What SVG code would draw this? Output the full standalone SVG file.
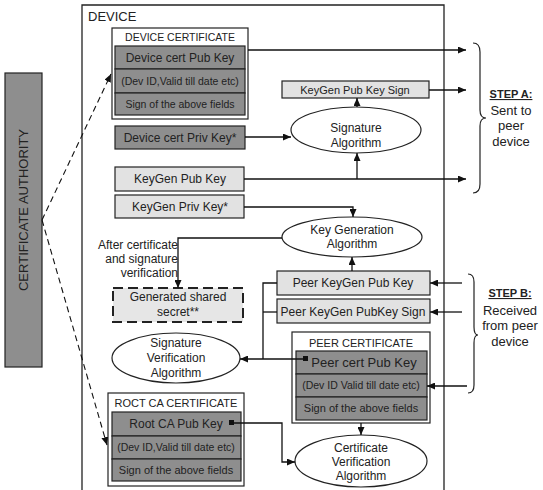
<svg xmlns="http://www.w3.org/2000/svg" width="543" height="490" viewBox="0 0 543 490">
<defs>
<marker id="ah" markerUnits="userSpaceOnUse" markerWidth="8" markerHeight="7" refX="8" refY="3.5" orient="auto"><path d="M0,0 L8,3.5 L0,7 z" fill="#111"/></marker>
<style>
text{font-family:"Liberation Sans",Arial,sans-serif;fill:#222;text-anchor:middle}
.dark{fill:#8e8e8e;stroke:#222;stroke-width:1.2}
.light{fill:#e2e2e2;stroke:#222;stroke-width:1.2}
.outer{fill:#fff;stroke:#222;stroke-width:1.2}
.ell{fill:#fff;stroke:#222;stroke-width:1.2}
.c{fill:none;stroke:#111;stroke-width:1.3}
.d{fill:none;stroke:#111;stroke-width:1.1;stroke-dasharray:6,4}
.t12{font-size:12px}
.t11{font-size:11px}
.t10{font-size:10.5px}
.t13{font-size:13px}
</style>
</defs>
<rect width="543" height="490" fill="#fff"/>

<g id="device">
<path d="M82,492 V5 H444 V492" fill="none" stroke="#222" stroke-width="1.3"/>
<text x="88" y="21" class="t13" style="text-anchor:start">DEVICE</text>
</g>

<g id="certificate-authority">
<rect x="5" y="73" width="37" height="294" class="dark"/>
<text transform="translate(28,210) rotate(-90)" class="t13" fill="#222">CERTIFICATE AUTHORITY</text>
</g>

<g id="device-certificate">
<rect x="112" y="28" width="136" height="91" class="outer"/>
<text x="180" y="41" class="t10">DEVICE CERTIFICATE</text>
<rect x="115" y="46" width="130" height="23" class="dark"/>
<text x="180" y="62" class="t12">Device cert Pub Key</text>
<rect x="115" y="69" width="130" height="24" class="dark"/>
<text x="180" y="85" class="t10">(Dev ID,Valid till date etc)</text>
<rect x="115" y="93" width="130" height="22" class="dark"/>
<text x="180" y="108" class="t10">Sign of the above fields</text>
</g>

<g id="device-cert-priv-key">
<rect x="115" y="126" width="130" height="23" class="dark"/>
<text x="180" y="142" class="t12">Device cert Priv Key*</text>
</g>

<g id="keygen-pub-key">
<rect x="115" y="167" width="129" height="24" class="light"/>
<text x="180" y="183" class="t12">KeyGen Pub Key</text>
</g>

<g id="keygen-priv-key">
<rect x="115" y="195" width="129" height="23" class="light"/>
<text x="180" y="211" class="t12">KeyGen Priv Key*</text>
</g>

<g id="keygen-pub-key-sign">
<rect x="282" y="81" width="147" height="17" class="light"/>
<text x="355" y="94" class="t11">KeyGen Pub Key Sign</text>
</g>

<g id="signature-algorithm">
<ellipse cx="356" cy="130" rx="65" ry="23" class="ell"/>
<text x="356" y="132" class="t12">Signature</text>
<text x="356" y="147" class="t12">Algorithm</text>
</g>

<g id="key-generation-algorithm">
<ellipse cx="352" cy="237" rx="70" ry="20" class="ell"/>
<text x="352" y="234" class="t12">Key Generation</text>
<text x="352" y="248" class="t12">Algorithm</text>
</g>

<g id="after-note">
<text x="178" y="249" class="t12" style="text-anchor:end">After certificate</text>
<text x="178" y="263" class="t12" style="text-anchor:end">and signature</text>
<text x="178" y="277" class="t12" style="text-anchor:end">verification</text>
</g>

<g id="shared-secret">
<rect x="113" y="288" width="130" height="34" fill="#e6e6e6" stroke="#222" stroke-width="2" stroke-dasharray="10,5"/>
<text x="178" y="301" class="t12">Generated shared</text>
<text x="178" y="316" class="t12">secret**</text>
</g>

<g id="peer-keygen-pub-key">
<rect x="277" y="271" width="153" height="24" class="light"/>
<text x="353" y="287" class="t12">Peer KeyGen Pub Key</text>
</g>

<g id="peer-keygen-pubkey-sign">
<rect x="277" y="299" width="153" height="24" class="light"/>
<text x="353" y="316" class="t12">Peer KeyGen PubKey Sign</text>
</g>

<g id="signature-verification-algorithm">
<ellipse cx="176" cy="358" rx="64" ry="25" class="ell"/>
<text x="176" y="347" class="t12">Signature</text>
<text x="176" y="362" class="t12">Verification</text>
<text x="176" y="377" class="t12">Algorithm</text>
</g>

<g id="peer-certificate">
<rect x="292" y="332" width="138" height="91" class="outer"/>
<text x="361" y="347" class="t11">PEER CERTIFICATE</text>
<rect x="296" y="351" width="131" height="23" class="dark"/>
<text x="364" y="367" class="t13">Peer cert Pub Key</text>
<rect x="303" y="356" width="5" height="5" fill="#111"/>
<rect x="296" y="374" width="131" height="23" class="dark"/>
<text x="361" y="389" class="t10">(Dev ID Valid till date etc)</text>
<rect x="296" y="397" width="131" height="23" class="dark"/>
<text x="361" y="412" class="t11">Sign of the above fields</text>
</g>

<g id="root-ca-certificate">
<rect x="108" y="393" width="136" height="93" class="outer"/>
<text x="176" y="407" class="t11">ROCT CA CERTIFICATE</text>
<rect x="112" y="412" width="129" height="24" class="dark"/>
<text x="176" y="428" class="t12">Root CA Pub Key</text>
<rect x="229" y="420" width="5" height="5" fill="#111"/>
<rect x="112" y="436" width="129" height="23" class="dark"/>
<text x="176" y="451" class="t10">(Dev ID,Valid till date etc)</text>
<rect x="112" y="459" width="129" height="22" class="dark"/>
<text x="176" y="474" class="t11">Sign of the above fields</text>
</g>

<g id="certificate-verification-algorithm">
<ellipse cx="361" cy="461" rx="66" ry="26" class="ell"/>
<text x="361" y="452" class="t12">Certificate</text>
<text x="361" y="466" class="t12">Verification</text>
<text x="361" y="480" class="t12">Algorithm</text>
</g>

<g id="step-a">
<path d="M473,43 Q480,43 480,52 L480,110 Q480,118 486,118 Q480,118 480,126 L480,184 Q480,193 473,193" fill="none" stroke="#222" stroke-width="1.2"/>
<text x="511" y="98" style="font-size:11px;font-weight:bold;text-decoration:underline">STEP A:</text>
<text x="511" y="115" class="t13">Sent to</text>
<text x="511" y="130" class="t13">peer</text>
<text x="511" y="146" class="t13">device</text>
</g>

<g id="step-b">
<path d="M468,274 Q474,274 474,282 L474,327 Q474,335 478,335 Q474,335 474,343 L474,385 Q474,393 468,393" fill="none" stroke="#222" stroke-width="1.2"/>
<text x="510" y="297" style="font-size:11px;font-weight:bold;text-decoration:underline">STEP B:</text>
<text x="510" y="315" class="t13">Received</text>
<text x="510" y="330" class="t13">from peer</text>
<text x="510" y="346" class="t13">device</text>
</g>

<g id="connectors">
<path class="c" d="M248,50 H466" marker-end="url(#ah)"/>
<path class="c" d="M245,137 H291" marker-end="url(#ah)"/>
<path class="c" d="M357,107 V98" marker-end="url(#ah)"/>
<path class="c" d="M429,90 H466" marker-end="url(#ah)"/>
<path class="c" d="M244,179 H466" marker-end="url(#ah)"/>
<path class="c" d="M357,179 V153" marker-end="url(#ah)"/>
<path class="c" d="M244,207 H353 V217" marker-end="url(#ah)"/>
<path class="c" d="M282,238 H178 V288" marker-end="url(#ah)"/>
<path class="c" d="M352,271 V257" marker-end="url(#ah)"/>
<path class="c" d="M462,283 H430" marker-end="url(#ah)"/>
<path class="c" d="M462,312 H430" marker-end="url(#ah)"/>
<path class="c" d="M467,386 H427" marker-end="url(#ah)"/>
<path class="c" d="M277,283 H263 V359"/>
<path class="c" d="M277,312 H263"/>
<path class="c" d="M306,359 H240" marker-end="url(#ah)"/>
<path class="c" d="M361,423 V435" marker-end="url(#ah)"/>
<path class="c" d="M232,423 H282 V462 H295" marker-end="url(#ah)"/>
<path class="d" d="M42,220 L111,74" marker-end="url(#ah)"/>
<path class="d" d="M42,220 L107,445" marker-end="url(#ah)"/>
</g>
</svg>
